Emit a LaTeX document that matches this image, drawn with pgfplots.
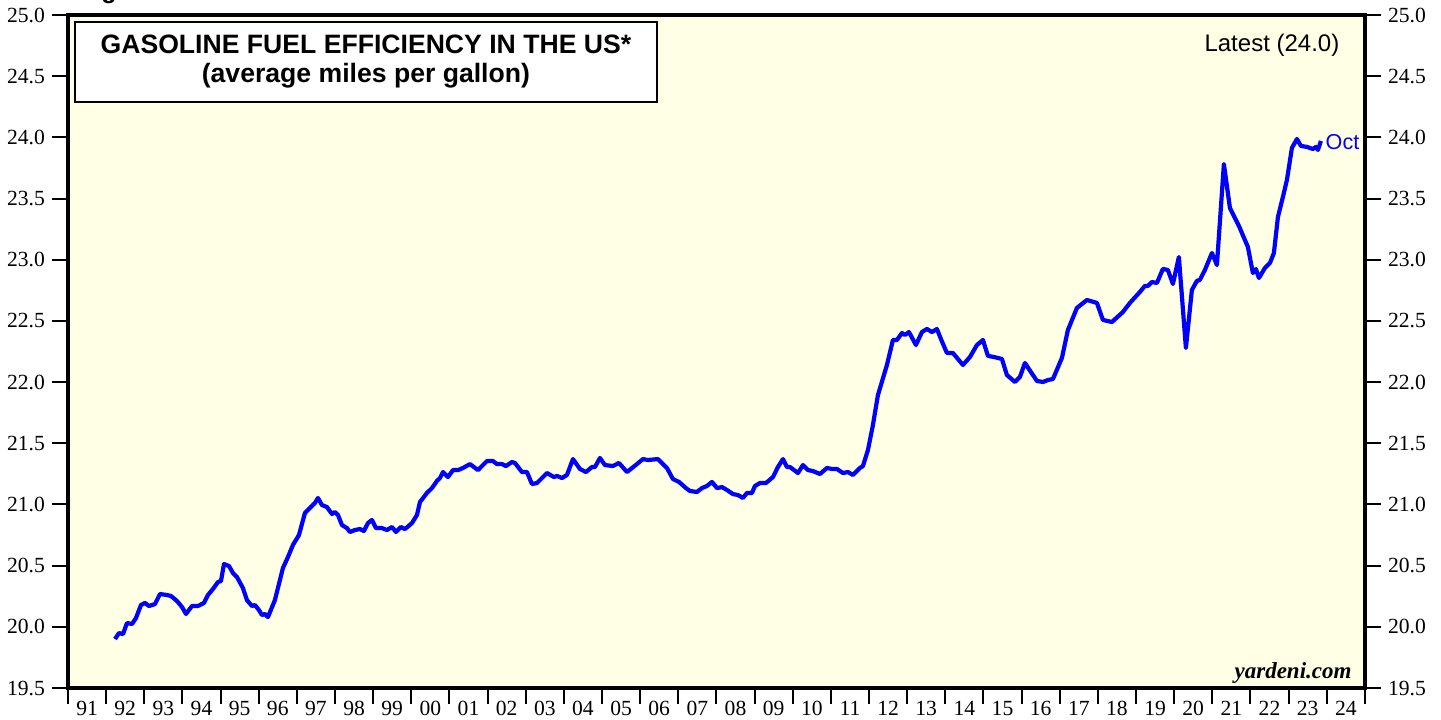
\documentclass[border=0pt]{standalone}
\usepackage{fontspec}
\setmainfont{Liberation Serif}
\newfontfamily\arial{Liberation Sans}
\usepackage{pgfplots}
\pgfplotsset{compat=1.18}
\definecolor{bgyellow}{RGB}{255,255,229}
\definecolor{lineblue}{RGB}{0,0,255}
\begin{document}
\begin{tikzpicture}
\useasboundingbox (-34pt,-15.5pt) rectangle (686.5pt,344pt);
\node[font=\arial\bfseries\fontsize{12.5}{14}\selectfont, anchor=base] at (20.5pt,344.5pt) {g};
\begin{axis}[
  at={(0,0)}, anchor=south west,
  scale only axis, width=648.5pt, height=336.5pt,
  xmin=1991, xmax=2025, ymin=19.5, ymax=25,
  axis background/.style={fill=bgyellow},
  axis line style={line width=1.6pt},
  tick align=outside,
  major tick length=8pt,
  tick style={line width=1pt, black},
  xtick={1991,...,2025},
  xticklabels={91,92,93,94,95,96,97,98,99,00,01,02,03,04,05,06,07,08,09,10,11,12,13,14,15,16,17,18,19,20,21,22,23,24,{}},
  xticklabel style={xshift=9.54pt, yshift=5pt, font=\fontsize{10.8}{12}\selectfont},
  xtick pos=bottom,
  ytick={19.5,20,...,25},
  ytick pos=left,
  yticklabel style={font=\fontsize{10.8}{12}\selectfont, /pgf/number format/fixed, /pgf/number format/fixed zerofill, /pgf/number format/precision=1},
  /pgf/number format/assume math mode=true,
  clip=false,
]
\addplot[lineblue, line width=2.1pt, line join=round] table {
x y
1992.232 19.900
1992.337 19.949
1992.442 19.941
1992.546 20.031
1992.678 20.023
1992.782 20.072
1992.913 20.178
1993.018 20.195
1993.123 20.170
1993.280 20.186
1993.411 20.268
1993.594 20.260
1993.699 20.252
1993.857 20.211
1993.988 20.162
1994.093 20.105
1994.250 20.170
1994.407 20.170
1994.564 20.195
1994.669 20.260
1994.800 20.309
1994.931 20.366
1995.010 20.374
1995.089 20.513
1995.220 20.497
1995.324 20.440
1995.429 20.407
1995.586 20.317
1995.691 20.219
1995.822 20.170
1995.901 20.178
1996.006 20.137
1996.084 20.096
1996.163 20.105
1996.242 20.080
1996.425 20.219
1996.635 20.481
1996.766 20.570
1996.897 20.669
1997.054 20.750
1997.211 20.930
1997.342 20.971
1997.473 21.012
1997.552 21.053
1997.657 20.995
1997.788 20.979
1997.919 20.922
1997.997 20.938
1998.077 20.914
1998.181 20.832
1998.312 20.807
1998.391 20.775
1998.522 20.791
1998.653 20.799
1998.758 20.783
1998.863 20.848
1998.967 20.873
1999.073 20.807
1999.230 20.807
1999.361 20.791
1999.493 20.816
1999.597 20.775
1999.728 20.816
1999.833 20.799
2000.017 20.848
2000.148 20.914
2000.227 21.020
2000.410 21.094
2000.541 21.134
2000.672 21.192
2000.751 21.216
2000.830 21.265
2000.961 21.224
2001.092 21.281
2001.223 21.281
2001.354 21.298
2001.538 21.330
2001.747 21.281
2001.983 21.355
2002.140 21.355
2002.245 21.330
2002.376 21.330
2002.481 21.314
2002.638 21.347
2002.717 21.339
2002.900 21.265
2003.031 21.265
2003.162 21.167
2003.293 21.175
2003.556 21.257
2003.739 21.224
2003.818 21.233
2003.949 21.216
2004.080 21.241
2004.237 21.371
2004.421 21.290
2004.578 21.265
2004.735 21.306
2004.814 21.306
2004.945 21.380
2005.076 21.322
2005.286 21.314
2005.443 21.339
2005.653 21.265
2005.915 21.330
2006.072 21.371
2006.203 21.363
2006.465 21.371
2006.701 21.298
2006.858 21.208
2007.016 21.184
2007.199 21.134
2007.304 21.110
2007.488 21.102
2007.619 21.134
2007.750 21.151
2007.881 21.184
2008.012 21.134
2008.143 21.142
2008.274 21.118
2008.431 21.085
2008.562 21.077
2008.693 21.053
2008.798 21.094
2008.929 21.094
2009.008 21.151
2009.139 21.175
2009.296 21.175
2009.480 21.224
2009.611 21.306
2009.742 21.371
2009.847 21.306
2009.925 21.306
2010.135 21.257
2010.266 21.322
2010.397 21.281
2010.528 21.273
2010.712 21.249
2010.895 21.298
2011.026 21.290
2011.157 21.290
2011.315 21.257
2011.446 21.265
2011.577 21.241
2011.760 21.298
2011.839 21.314
2011.970 21.445
2012.101 21.649
2012.232 21.894
2012.468 22.140
2012.625 22.344
2012.730 22.344
2012.861 22.401
2012.940 22.385
2013.045 22.409
2013.228 22.303
2013.385 22.409
2013.516 22.434
2013.648 22.409
2013.778 22.434
2013.883 22.352
2014.040 22.238
2014.197 22.238
2014.460 22.140
2014.643 22.205
2014.827 22.303
2014.984 22.344
2015.115 22.214
2015.273 22.205
2015.482 22.189
2015.613 22.058
2015.823 22.001
2015.954 22.042
2016.085 22.156
2016.400 22.009
2016.557 22.001
2016.688 22.017
2016.819 22.025
2017.055 22.197
2017.212 22.426
2017.448 22.606
2017.711 22.671
2017.973 22.647
2018.129 22.508
2018.365 22.491
2018.654 22.573
2018.837 22.647
2019.100 22.737
2019.230 22.786
2019.309 22.786
2019.414 22.818
2019.545 22.810
2019.702 22.925
2019.833 22.916
2019.964 22.802
2020.121 23.022
2020.305 22.279
2020.462 22.753
2020.593 22.827
2020.672 22.835
2020.803 22.916
2020.987 23.055
2021.118 22.957
2021.301 23.782
2021.459 23.423
2021.695 23.276
2021.852 23.161
2021.930 23.104
2022.061 22.891
2022.140 22.924
2022.219 22.851
2022.376 22.932
2022.507 22.973
2022.612 23.055
2022.717 23.349
2022.848 23.513
2022.953 23.652
2023.084 23.913
2023.215 23.987
2023.320 23.930
2023.477 23.922
2023.634 23.905
2023.713 23.922
2023.766 23.897
2023.845 23.971
};
\draw[line width=1pt, fill=white] (axis cs:1991.18,24.943) rectangle (axis cs:2006.44,24.289);
\node[font=\arial\bfseries\fontsize{13.3}{14.8}\selectfont, align=center] at (axis cs:1998.81,24.62) {GASOLINE FUEL EFFICIENCY IN THE US*\\(average miles per gallon)};
\node[font=\arial\fontsize{12}{14}\selectfont] at (axis cs:2022.56,24.755) {Latest (24.0)};
\node[font=\arial\fontsize{10.8}{13}\selectfont, text=lineblue, anchor=west, inner sep=0pt] at (axis cs:2023.96,23.96) {Oct};
\node[font=\bfseries\itshape\fontsize{11.5}{13}\selectfont, anchor=base east, inner sep=0pt] at (axis cs:2024.657,19.581) {yardeni.com};
\end{axis}
\begin{axis}[
  at={(0,0)}, anchor=south west,
  scale only axis, width=648.5pt, height=336.5pt,
  xmin=1991, xmax=2025, ymin=19.5, ymax=25,
  hide x axis,
  axis line style={draw=none},
  tick align=outside,
  major tick length=8pt,
  tick style={line width=1pt, black},
  ytick={19.5,20,...,25},
  ytick pos=right,
  yticklabel pos=right,
  yticklabel style={font=\fontsize{10.8}{12}\selectfont, /pgf/number format/fixed, /pgf/number format/fixed zerofill, /pgf/number format/precision=1},
  /pgf/number format/assume math mode=true,
]
\addplot[draw=none] coordinates {(1991,19.5)};
\end{axis}
\end{tikzpicture}
\end{document}
